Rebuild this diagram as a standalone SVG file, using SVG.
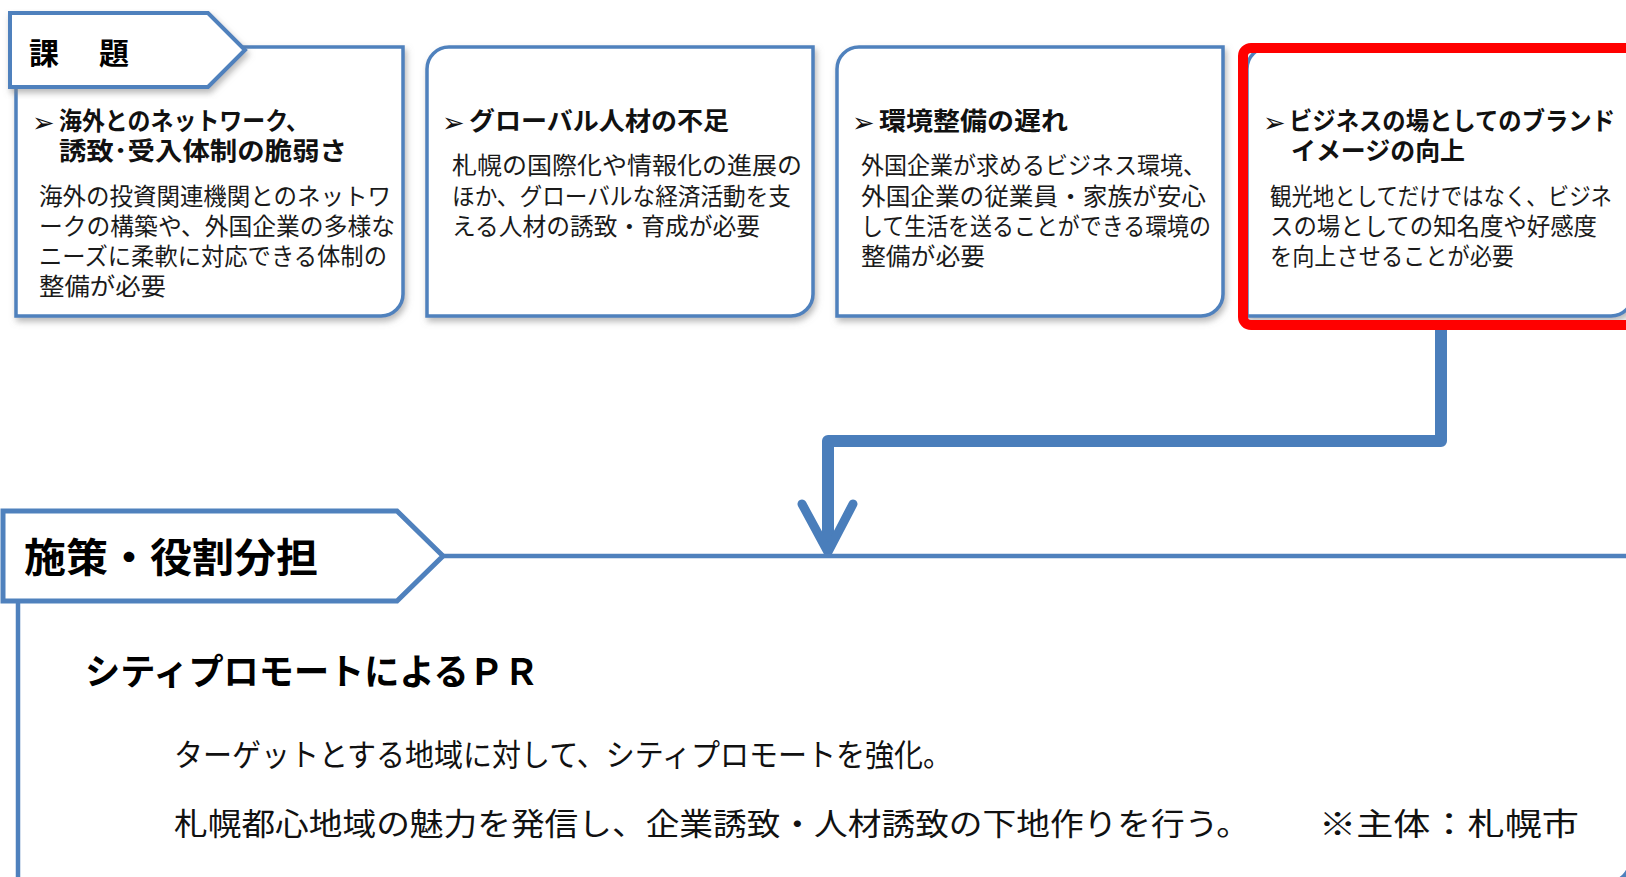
<svg xmlns="http://www.w3.org/2000/svg" width="1626" height="877" viewBox="0 0 1626 877">
<defs>
<filter id="sh" x="-5%" y="-5%" width="115%" height="120%">
<feDropShadow dx="2" dy="4" stdDeviation="3" flood-color="#7f7f7f" flood-opacity="0.55"/>
</filter>
</defs>
<style>
.box{fill:#fff;stroke:#4F81BD;stroke-width:3.5;filter:url(#sh)}
.tab{fill:#fff;stroke:#4F81BD;stroke-width:4}
.h{font-family:"Noto Sans CJK JP",sans-serif;font-weight:bold;font-size:25px;fill:#111}
.b{font-family:"Noto Sans CJK JP",sans-serif;font-size:24px;fill:#1a1a1a}
.ar{font-family:"DejaVu Sans",sans-serif;font-weight:bold;font-size:27px;fill:#111}
.big{font-family:"Noto Sans CJK JP",sans-serif;font-weight:bold;fill:#000}
.txt{font-family:"Noto Sans CJK JP",sans-serif;font-size:31px;fill:#111}
.conn{fill:none;stroke:#4A7EBB;stroke-linejoin:round}
</style>
<rect width="1626" height="877" fill="#fff"/>

<g id="box1">
<path class="box" d="M16,47 H403 V294 A22,22 0 0 1 381,316 H16 Z"/>
<text class="ar" x="32" y="132">➢</text>
<text class="h" x="59" y="130" textLength="250" lengthAdjust="spacingAndGlyphs">海外とのネットワーク、</text>
<text class="h" x="59" y="160" textLength="288" lengthAdjust="spacingAndGlyphs">誘致･受入体制の脆弱さ</text>
<text class="b" x="39" y="205" textLength="352" lengthAdjust="spacingAndGlyphs">海外の投資関連機関とのネットワ</text>
<text class="b" x="39" y="235" textLength="356" lengthAdjust="spacingAndGlyphs">ークの構築や、外国企業の多様な</text>
<text class="b" x="39" y="265" textLength="348" lengthAdjust="spacingAndGlyphs">ニーズに柔軟に対応できる体制の</text>
<text class="b" x="39" y="295" textLength="127" lengthAdjust="spacingAndGlyphs">整備が必要</text>
</g>

<g id="tab-kadai">
<path class="tab" filter="url(#sh)" d="M10,13 H208 L245,50 L208,87 H10 Z"/>
<text class="big" font-size="30" x="29 99" y="64">課題</text>
</g>

<g id="box2">
<path class="box" d="M449,47 H813 V294 A22,22 0 0 1 791,316 H427 V69 A22,22 0 0 1 449,47 Z"/>
<text class="ar" x="442" y="132">➢</text>
<text class="h" x="469" y="130" textLength="260" lengthAdjust="spacingAndGlyphs">グローバル人材の不足</text>
<text class="b" x="452" y="174" textLength="350" lengthAdjust="spacingAndGlyphs">札幌の国際化や情報化の進展の</text>
<text class="b" x="452" y="205" textLength="339" lengthAdjust="spacingAndGlyphs">ほか、グローバルな経済活動を支</text>
<text class="b" x="452" y="235" textLength="308" lengthAdjust="spacingAndGlyphs">える人材の誘致・育成が必要</text>
</g>

<g id="box3">
<path class="box" d="M859,47 H1223 V294 A22,22 0 0 1 1201,316 H837 V69 A22,22 0 0 1 859,47 Z"/>
<text class="ar" x="852" y="132">➢</text>
<text class="h" x="879" y="130" textLength="189" lengthAdjust="spacingAndGlyphs">環境整備の遅れ</text>
<text class="b" x="861" y="174" textLength="345" lengthAdjust="spacingAndGlyphs">外国企業が求めるビジネス環境、</text>
<text class="b" x="861" y="205" textLength="345" lengthAdjust="spacingAndGlyphs">外国企業の従業員・家族が安心</text>
<text class="b" x="861" y="235" textLength="350" lengthAdjust="spacingAndGlyphs">して生活を送ることができる環境の</text>
<text class="b" x="861" y="265" textLength="124" lengthAdjust="spacingAndGlyphs">整備が必要</text>
</g>

<g id="box4">
<path class="box" d="M1269,47 H1633 V294 A22,22 0 0 1 1611,316 H1247 V69 A22,22 0 0 1 1269,47 Z"/>
<text class="ar" x="1263" y="132">➢</text>
<text class="h" x="1289" y="130" textLength="326" lengthAdjust="spacingAndGlyphs">ビジネスの場としてのブランド</text>
<text class="h" x="1291" y="160" textLength="174" lengthAdjust="spacingAndGlyphs">イメージの向上</text>
<text class="b" x="1270" y="205" textLength="342" lengthAdjust="spacingAndGlyphs">観光地としてだけではなく、ビジネ</text>
<text class="b" x="1270" y="235" textLength="327" lengthAdjust="spacingAndGlyphs">スの場としての知名度や好感度</text>
<text class="b" x="1270" y="265" textLength="244" lengthAdjust="spacingAndGlyphs">を向上させることが必要</text>
<rect x="1243" y="48" width="420" height="277" rx="8" fill="none" stroke="#FF0000" stroke-width="10"/>
</g>

<g id="connectors">
<path class="conn" stroke-width="12" d="M1441,330 V441 H828 V548"/>
<path class="conn" stroke-width="9" stroke-linecap="round" d="M802,504 L828,552 L853,504"/>
</g>

<g id="section-shisaku">
<path fill="none" stroke="#4F81BD" stroke-width="4.5" d="M443,556 H1630 V862 A20,20 0 0 1 1610,882 H18 V601"/>
<path fill="#fff" stroke="#4F81BD" stroke-width="5" d="M3,511 H397 L443,556 L397,601 H3 Z"/>
<text class="big" font-size="40" x="24" y="572" textLength="294" lengthAdjust="spacingAndGlyphs">施策・役割分担</text>
</g>

<g id="content">
<text class="big" font-size="36" x="85" y="685" textLength="454" lengthAdjust="spacingAndGlyphs">シティプロモートによるＰＲ</text>
<text class="txt" x="174" y="766" textLength="778" lengthAdjust="spacingAndGlyphs">ターゲットとする地域に対して、シティプロモートを強化。</text>
<text class="txt" x="174" y="835" textLength="1076" lengthAdjust="spacingAndGlyphs">札幌都心地域の魅力を発信し、企業誘致・人材誘致の下地作りを行う。</text>
<text class="txt" x="1319" y="835" textLength="260" lengthAdjust="spacingAndGlyphs">※主体：札幌市</text>
</g>
</svg>
